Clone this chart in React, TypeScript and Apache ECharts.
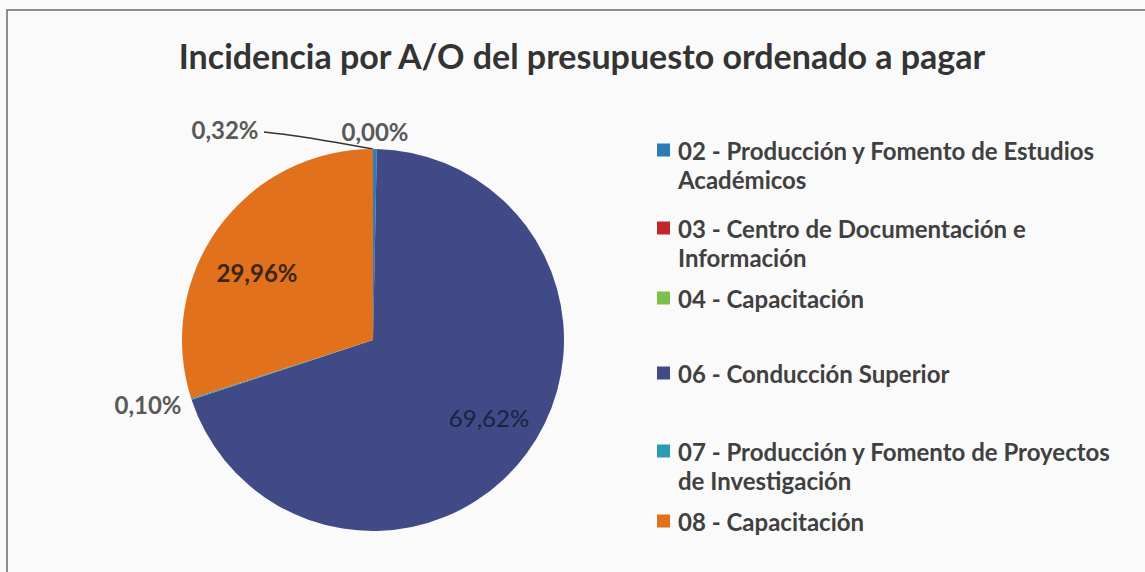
import React, { useEffect, useRef } from "react";
import * as echarts from "echarts";

const categories = [
  "02 - Producción y Fomento de Estudios Académicos",
  "03 - Centro de Documentación e Información",
  "04 - Capacitación",
  "06 - Conducción Superior",
  "07 - Producción y Fomento de Proyectos de Investigación",
  "08 - Capacitación ",
];
const legendLines = [
  "02 - Producción y Fomento de Estudios\nAcadémicos",
  "03 - Centro de Documentación e\nInformación",
  "04 - Capacitación",
  "06 - Conducción Superior",
  "07 - Producción y Fomento de Proyectos\nde Investigación",
  "08 - Capacitación",
];
const values = [0.32, 0.0, 0.0, 69.62, 0.1, 29.96];
const showValueLabel = [true, true, false, true, true, true];
const colors = ["#2f7bb5", "#c0282e", "#7dbf4a", "#404a87", "#2a9bb0", "#e2711d"];

const titleText = "Incidencia por A/O del presupuesto ordenado a pagar";

export default function App() {
  const ref = useRef<HTMLDivElement>(null);
  useEffect(() => {
    document.body.style.margin = "0";
    if (!ref.current) return;
    const chart = echarts.init(ref.current, null, { renderer: "svg" });

    const labelPos: [number, number][] = [
      [225, 129],
      [375, 131],
      [375, 131],
      [489, 417],
      [148, 404],
      [257, 272],
    ];
    const labelColor = ["#595959", "#595959", "#595959", "#1c2240", "#595959", "#3a2616"];
    const labelWeight = ["bold", "bold", "bold", "normal", "bold", "bold"];

    const legendCenters = [150, 228, 298, 373, 451, 521];
    const legends = categories.map((name, i) => {
      const twoLine = legendLines[i].includes("\n");
      return {
        show: true,
        data: [name],
        left: 657,
        top: twoLine ? legendCenters[i] - 43.5 : legendCenters[i] - 14.5,
        padding: 0,
        itemWidth: 13,
        itemHeight: 13,
        itemGap: 0,
        icon: "rect",
        selectedMode: false,
        formatter: () => (twoLine ? "\n" + legendLines[i] : legendLines[i]),
        textStyle: {
          fontFamily: "Lato",
          fontWeight: "bold",
          fontSize: 24,
          color: "#404040",
          lineHeight: 29,
          padding: [0, 0, 0, 3],
        },
      };
    });

    chart.setOption({
      animation: false,
      backgroundColor: "#fafafa",
      color: colors,
      title: {
        text: titleText,
        left: 577,
        top: 33,
        textAlign: "center",
        textStyle: {
          fontFamily: "Lato",
          fontWeight: "bold",
          fontSize: 34,
          color: "#333333",
        },
      },
      legend: legends,
      graphic: [
        {
          type: "rect",
          shape: { x: 7, y: 10, width: 1145, height: 580 },
          style: { fill: "none", stroke: "#6b6b6b", lineWidth: 1.5 },
          silent: true,
        },
      ],
      series: [
        {
          type: "pie",
          center: [373, 340],
          radius: 191,
          startAngle: 90,
          clockwise: true,
          avoidLabelOverlap: false,
          minShowLabelAngle: 0,
          itemStyle: { borderWidth: 0 },
          label: {
            show: true,
            position: "outside",
            fontFamily: "Lato",
            fontSize: 24,
            formatter: (p: any) =>
              showValueLabel[p.dataIndex]
                ? p.value.toFixed(2).replace(".", ",") + "%"
                : "",
          },
          labelLine: { show: false },
          labelLayout: (params: any) => {
            const i = params.dataIndex;
            const res: any = {
              x: labelPos[i][0],
              y: labelPos[i][1],
              align: "center",
              verticalAlign: "middle",
            };
            if (i === 0) {
              res.labelLinePoints = [
                [373, 149],
                [300, 136],
                [264, 132],
              ];
            }
            return res;
          },
          data: categories.map((name, i) => ({
            name,
            value: values[i],
            label: { color: labelColor[i], fontWeight: labelWeight[i] },
            labelLine:
              i === 0
                ? { show: true, lineStyle: { color: "#333333", width: 1.5 }, smooth: 0.4 }
                : { show: false },
          })),
        },
      ],
    });
    return () => chart.dispose();
  }, []);
  return <div ref={ref} style={{ width: 1145, height: 572 }} />;
}
